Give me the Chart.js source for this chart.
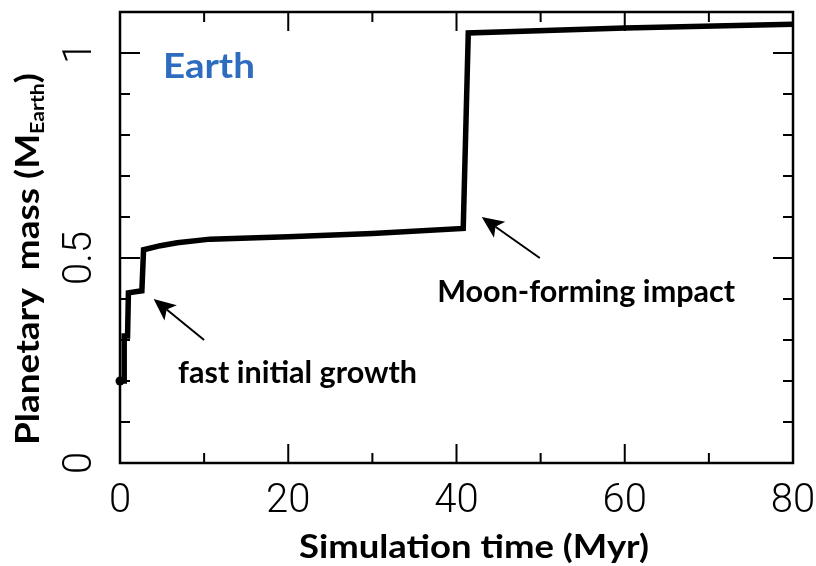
<!DOCTYPE html>
<html>
<head>
<meta charset="utf-8">
<script src="https://cdn.jsdelivr.net/npm/chart.js@4.4.1/dist/chart.umd.min.js"></script>
<style>
  html, body { margin: 0; padding: 0; background: #fff; }
  #wrap { width: 816px; height: 566px; }
</style>
</head>
<body>
<div id="wrap"><canvas id="mass-chart"></canvas></div>
<script>
// growth of the Earth in one simulation
const timeMyr = [0, 0.5, 0.5, 0.9, 1.0, 2.6, 2.8, 4.8, 6.8, 10.7, 20, 30, 40.8, 41.4, 60, 80];
const massEarth = [0.2, 0.2, 0.31, 0.31, 0.415, 0.42, 0.52, 0.53, 0.537, 0.546, 0.552, 0.56, 0.572, 1.049, 1.061, 1.07];

const xTicks = [0, 10, 20, 30, 40, 50, 60, 70, 80];
const xTickLabels = [0, 20, 40, 60, 80];
const yTicks = [0, 0.1, 0.2, 0.3, 0.4, 0.5, 0.6, 0.7, 0.8, 0.9, 1];
const yTickLabels = [0, 0.5, 1];

const xTitle = 'Simulation time (Myr)';
const yTitle = ['Planetary  mass (M', 'Earth', ')'];

const boldFont = (size) => `bold ${size}px Lato, "Open Sans", sans-serif`;
const tickFont = '300 40px Roboto, "Liberation Sans", sans-serif';

// draw text squeezed/stretched to a given width
function fitText(ctx, text, left, baseline, width) {
  const w = ctx.measureText(text).width;
  ctx.save();
  ctx.translate(left, baseline);
  ctx.scale(width / w, 1);
  ctx.fillText(text, 0, 0);
  ctx.restore();
}

function arrow(ctx, x0, y0, x1, y1) {
  const ang = Math.atan2(y1 - y0, x1 - x0);
  const head = 24;
  ctx.beginPath();
  ctx.moveTo(x0, y0);
  ctx.lineTo(x1 - Math.cos(ang) * head * 0.7, y1 - Math.sin(ang) * head * 0.7);
  ctx.lineWidth = 2;
  ctx.stroke();
  ctx.beginPath();
  ctx.moveTo(x1, y1);
  ctx.lineTo(x1 - Math.cos(ang - 0.42) * head, y1 - Math.sin(ang - 0.42) * head);
  ctx.lineTo(x1 - Math.cos(ang) * head * 0.7, y1 - Math.sin(ang) * head * 0.7);
  ctx.lineTo(x1 - Math.cos(ang + 0.42) * head, y1 - Math.sin(ang + 0.42) * head);
  ctx.closePath();
  ctx.fill();
}

const framePlugin = {
  id: 'frame',
  afterDraw(chart) {
    const { ctx, chartArea: a } = chart;
    const x = chart.scales.x;
    const y = chart.scales.y;
    ctx.save();
    ctx.strokeStyle = '#000';
    ctx.fillStyle = '#000';

    // ticks pointing into the plot, on all four sides
    ctx.lineWidth = 2;
    ctx.beginPath();
    xTicks.forEach(v => {
      const px = x.getPixelForValue(v);
      const len = xTickLabels.includes(v) ? 19 : 10;
      ctx.moveTo(px, a.bottom); ctx.lineTo(px, a.bottom - len);
      ctx.moveTo(px, a.top); ctx.lineTo(px, a.top + len);
    });
    yTicks.forEach(v => {
      const py = y.getPixelForValue(v);
      const len = yTickLabels.includes(v) ? 20 : 10;
      ctx.moveTo(a.left, py); ctx.lineTo(a.left + len, py);
      ctx.moveTo(a.right, py); ctx.lineTo(a.right - len, py);
    });
    ctx.stroke();

    ctx.lineWidth = 2.5;
    ctx.strokeRect(a.left, a.top, a.right - a.left, a.bottom - a.top);

    // tick labels
    ctx.font = tickFont;
    ctx.textAlign = 'center';
    ctx.textBaseline = 'alphabetic';
    xTickLabels.forEach(v => {
      ctx.fillText(String(v), x.getPixelForValue(v), a.bottom + 49);
    });
    yTickLabels.forEach(v => {
      ctx.save();
      ctx.translate(a.left - 29, y.getPixelForValue(v));
      ctx.rotate(-Math.PI / 2);
      ctx.fillText(String(v), 0, 0);
      ctx.restore();
    });

    // axis titles
    ctx.textAlign = 'left';
    ctx.font = boldFont(32);
    fitText(ctx, xTitle, 299, 558, 350);

    ctx.save();
    ctx.translate(39, 259);
    ctx.rotate(-Math.PI / 2);
    ctx.font = boldFont(33);
    const w1 = ctx.measureText(yTitle[0]).width;
    const w3 = ctx.measureText(yTitle[2]).width;
    ctx.font = boldFont(19);
    const w2 = ctx.measureText(yTitle[1]).width;
    const k = 372 / (w1 + w2 + w3);
    ctx.scale(k, 1);
    const start = -(w1 + w2 + w3) / 2;
    ctx.font = boldFont(33);
    ctx.fillText(yTitle[0], start, 0);
    ctx.fillText(yTitle[2], start + w1 + w2, 0);
    ctx.font = boldFont(19);
    ctx.fillText(yTitle[1], start + w1, 5);
    ctx.restore();

    // annotations, placed in data units
    const px = (t) => x.getPixelForValue(t);
    const py = (m) => y.getPixelForValue(m);
    ctx.fillStyle = '#2E6CC0';
    ctx.font = boldFont(34);
    fitText(ctx, 'Earth', px(5.1), py(0.939), 92);

    ctx.fillStyle = '#000';
    ctx.font = boldFont(30);
    fitText(ctx, 'fast initial growth', px(6.9), py(0.195), 239);
    ctx.font = boldFont(31);
    fitText(ctx, 'Moon-forming impact', px(37.7), py(0.392), 298);

    arrow(ctx, px(10), py(0.3), px(4), py(0.4));
    arrow(ctx, px(49.9), py(0.5), px(43), py(0.6));
    ctx.restore();
  }
};

new Chart(document.getElementById('mass-chart'), {
  type: 'line',
  data: {
    datasets: [
      {
        data: timeMyr.map((t, i) => ({ x: t, y: massEarth[i] })),
        borderColor: '#000',
        borderWidth: 5.5,
        borderJoinStyle: 'miter',
        pointRadius: (c) => (c.dataIndex === 0 ? 4.5 : 0),
        pointBackgroundColor: '#000',
        pointBorderWidth: 0,
        tension: 0,
        fill: false,
        clip: false,
      },
    ],
  },
  options: {
    responsive: true,
    maintainAspectRatio: false,
    animation: false,
    layout: { padding: { left: 120, right: 23, top: 12, bottom: 103 } },
    scales: {
      x: { type: 'linear', min: 0, max: 80, display: false },
      y: { min: 0, max: 1.1, display: false },
    },
    plugins: {
      legend: { display: false },
      tooltip: { enabled: false },
    },
  },
  plugins: [framePlugin],
});
</script>
</body>
</html>
